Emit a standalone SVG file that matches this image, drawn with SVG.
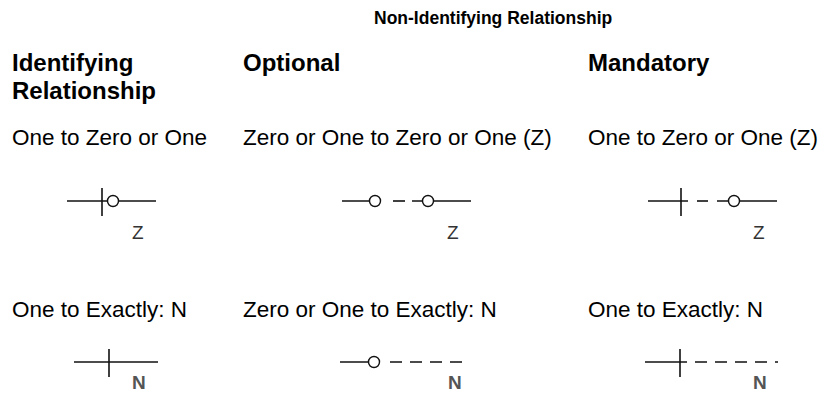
<svg xmlns="http://www.w3.org/2000/svg" width="820" height="398" viewBox="0 0 820 398">
<style>
.h{font-family:"Liberation Sans",Arial,sans-serif;font-weight:bold;fill:#000}
.t{font-family:"Liberation Sans",Arial,sans-serif;font-size:22.5px;fill:#000}
.z{font-family:"Liberation Sans",Arial,sans-serif;font-size:19px;fill:#333}
.n{font-family:"Liberation Sans",Arial,sans-serif;font-size:19px;font-weight:bold;fill:#555}
.ln{stroke:#111;stroke-width:1.6;fill:none}
.c{stroke:#111;stroke-width:1.4;fill:#fff}
</style>
<rect width="820" height="398" fill="#fff"/>
<g id="headers">
<text class="h" x="374" y="24" font-size="17.5">Non-Identifying Relationship</text>
<text class="h" x="12" y="71" font-size="24">Identifying</text>
<text class="h" x="12" y="99" font-size="24">Relationship</text>
<text class="h" x="243" y="71" font-size="24">Optional</text>
<text class="h" x="588" y="71" font-size="24">Mandatory</text>
</g>
<g id="labels">
<text class="t" x="12" y="145">One to Zero or One</text>
<text class="t" x="243" y="145">Zero or One to Zero or One (Z)</text>
<text class="t" x="588" y="145">One to Zero or One (Z)</text>
<text class="t" x="12" y="317">One to Exactly: N</text>
<text class="t" x="243" y="317">Zero or One to Exactly: N</text>
<text class="t" x="588" y="317">One to Exactly: N</text>
</g>
<g id="connectors">
<g id="id-zero-one">
<line class="ln" x1="67" y1="201" x2="156" y2="201"/>
<line class="ln" x1="102" y1="188" x2="102" y2="216"/>
<circle class="c" cx="113" cy="201" r="5.5"/>
<text class="z" x="132" y="239">Z</text>
</g>
<g id="opt-zero-one">
<line class="ln" x1="342" y1="201" x2="375" y2="201"/>
<circle class="c" cx="375" cy="201" r="5.5"/>
<line class="ln" x1="393" y1="201" x2="405" y2="201"/>
<line class="ln" x1="412" y1="201" x2="471" y2="201"/>
<circle class="c" cx="428" cy="201" r="5.5"/>
<text class="z" x="447" y="239">Z</text>
</g>
<g id="man-zero-one">
<line class="ln" x1="648" y1="201" x2="688" y2="201"/>
<line class="ln" x1="681" y1="188" x2="681" y2="216"/>
<line class="ln" x1="697" y1="201" x2="708" y2="201"/>
<line class="ln" x1="717" y1="201" x2="777" y2="201"/>
<circle class="c" cx="734" cy="201" r="5.5"/>
<text class="z" x="753" y="239">Z</text>
</g>
<g id="id-exactly">
<line class="ln" x1="74" y1="362" x2="158" y2="362"/>
<line class="ln" x1="109" y1="349" x2="109" y2="377"/>
<text class="n" x="132" y="389">N</text>
</g>
<g id="opt-exactly">
<line class="ln" x1="340" y1="362" x2="374" y2="362"/>
<circle class="c" cx="374" cy="362" r="5.5"/>
<line class="ln" x1="390" y1="362" x2="462" y2="362" stroke-dasharray="12 8"/>
<text class="n" x="448" y="389">N</text>
</g>
<g id="man-exactly">
<line class="ln" x1="645" y1="362" x2="687" y2="362"/>
<line class="ln" x1="680" y1="349" x2="680" y2="377"/>
<line class="ln" x1="695" y1="362" x2="778" y2="362" stroke-dasharray="12 8"/>
<text class="n" x="753" y="389">N</text>
</g>
</g>
</svg>
